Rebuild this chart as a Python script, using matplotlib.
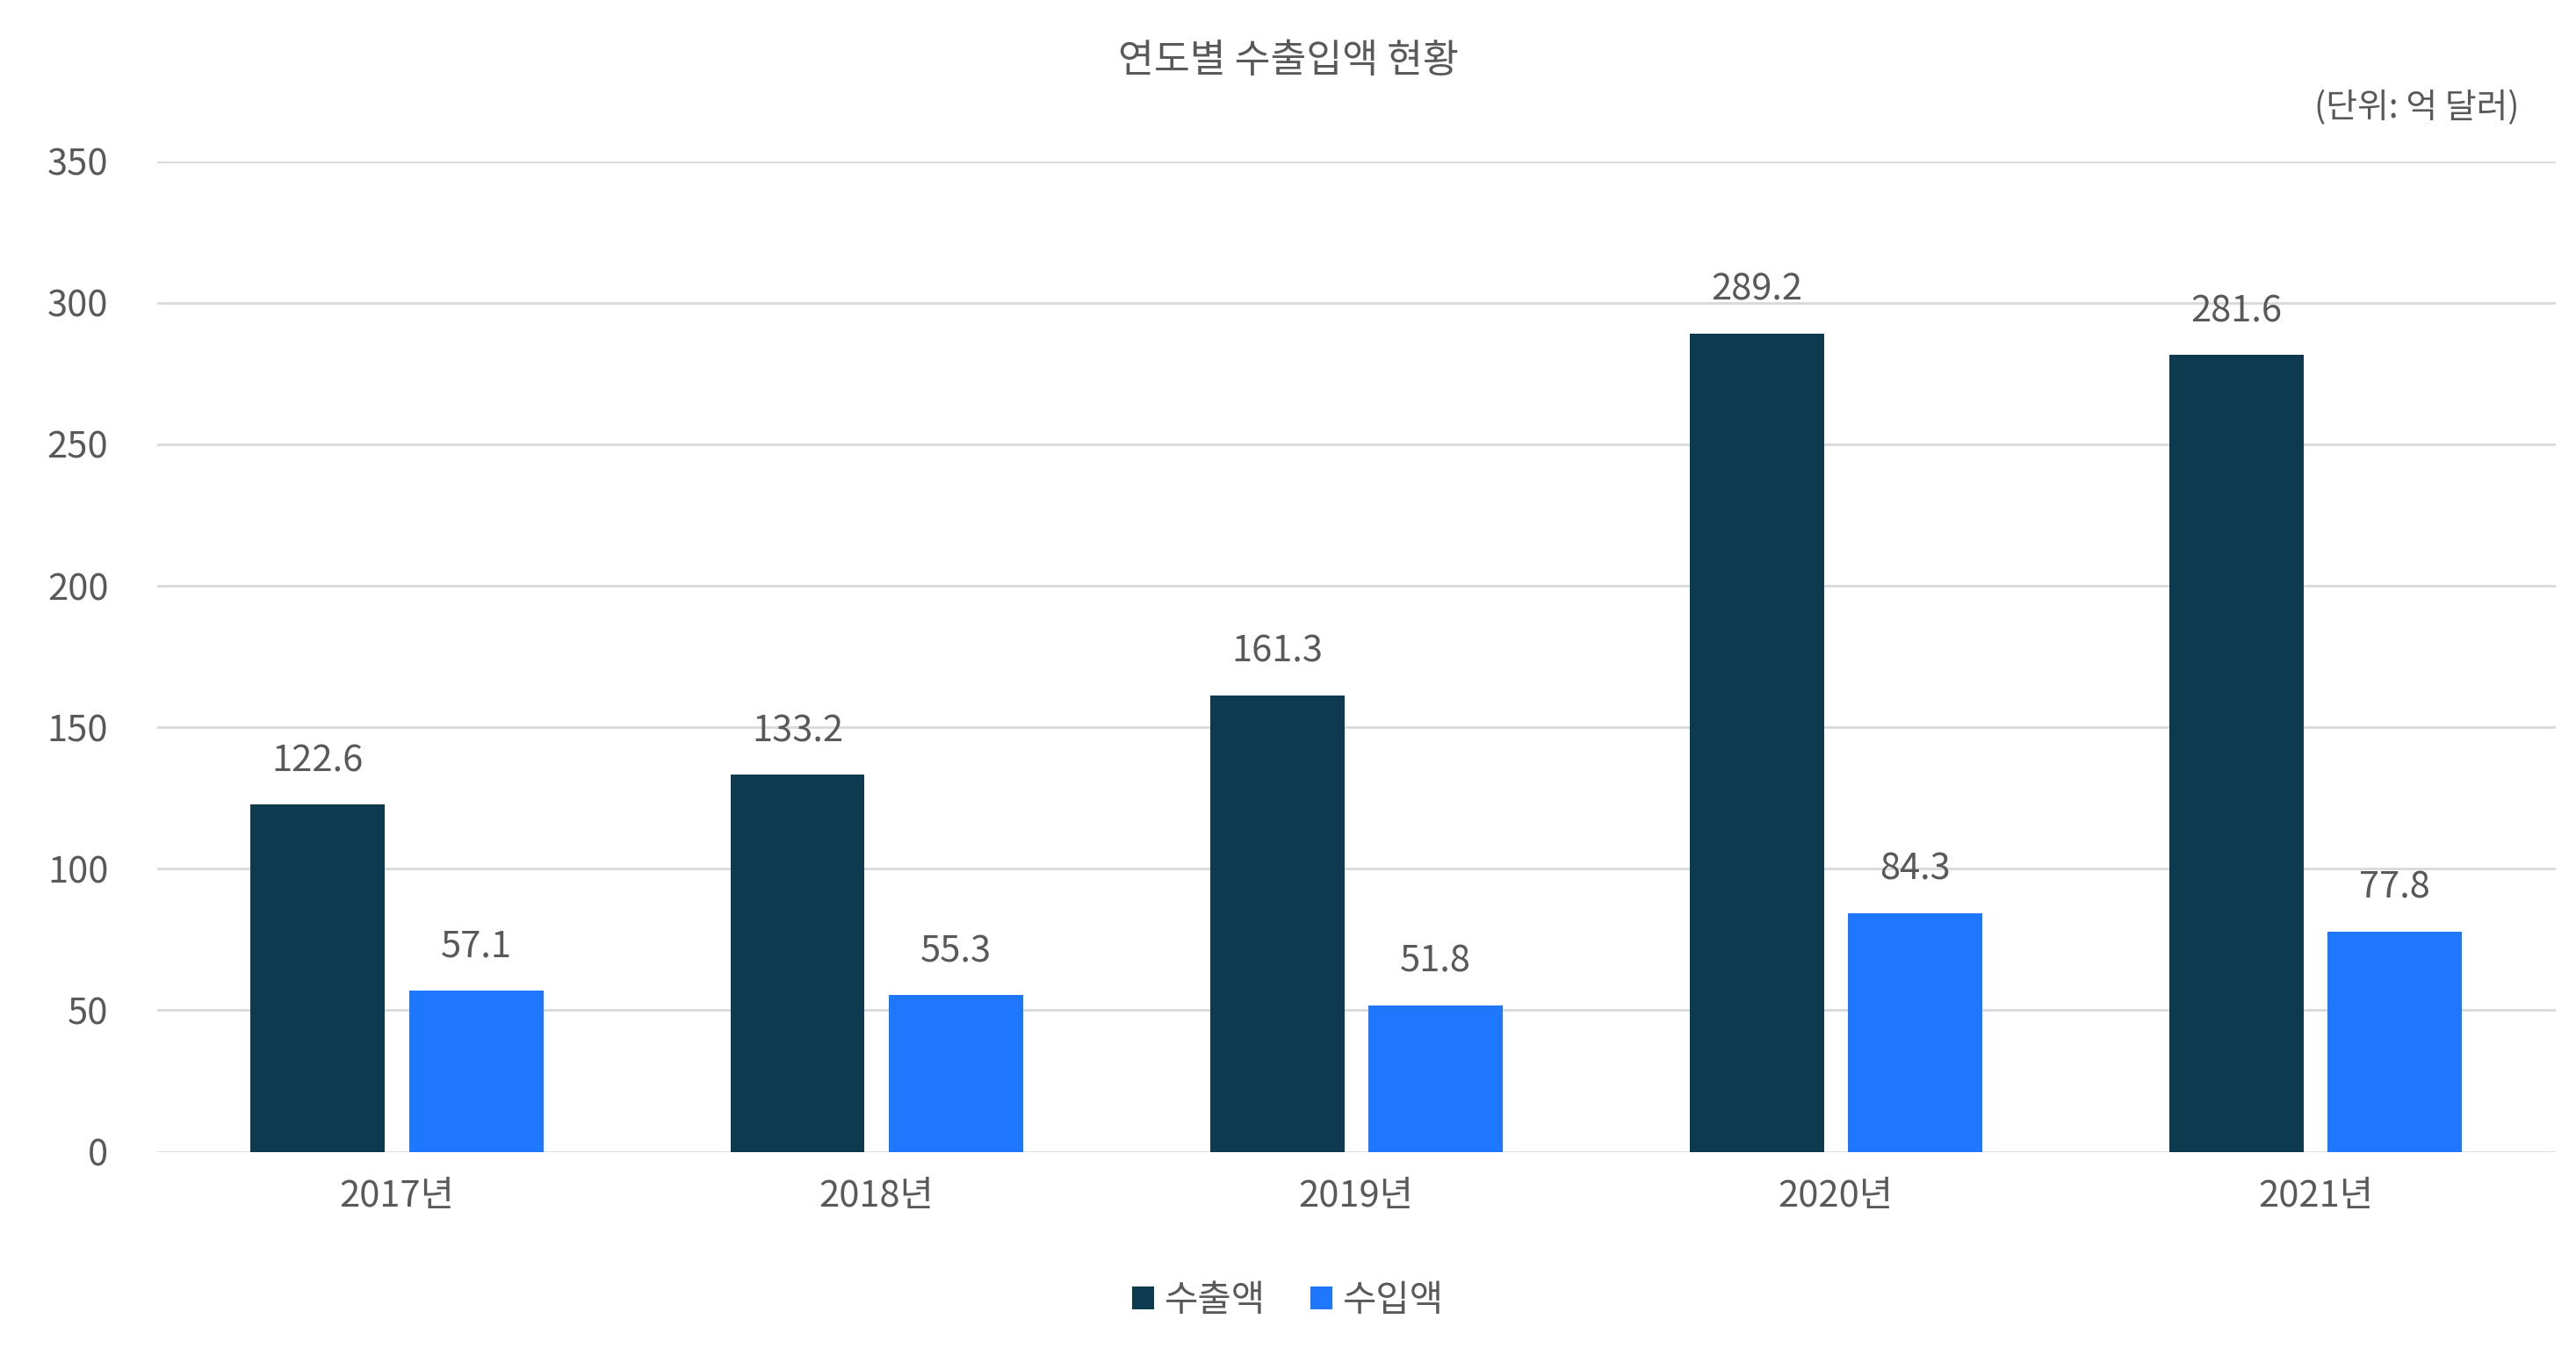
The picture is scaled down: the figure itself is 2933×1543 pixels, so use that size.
import matplotlib
matplotlib.use("Agg")
import matplotlib.pyplot as plt
import numpy as np

plt.rcParams["font.family"] = "Noto Sans CJK KR"

years = ["2017년", "2018년", "2019년", "2020년", "2021년"]
exports = [122.6, 133.2, 161.3, 289.2, 281.6]
imports = [57.1, 55.3, 51.8, 84.3, 77.8]

text_color = "#595959"
dark = "#0e3a4f"
blue = "#1f77fe"

fig = plt.figure(figsize=(29.33, 15.43), dpi=100)
ax = fig.add_axes([0.061, 0.150, 0.931, 0.731])

x = np.arange(len(years))
w = 0.28
off = 0.165
b1 = ax.bar(x - off, exports, w, color=dark, label="수출액", zorder=3)
b2 = ax.bar(x + off, imports, w, color=blue, label="수입액", zorder=3)

for bars, vals in ((b1, exports), (b2, imports)):
    for b, v in zip(bars, vals):
        ax.text(b.get_x() + b.get_width() / 2, v + 9, f"{v:.1f}",
                ha="center", va="bottom", fontsize=30, color=text_color)

ax.set_ylim(0, 350)
ax.set_yticks(range(0, 351, 50))
ax.set_xlim(-0.5, len(years) - 0.5)
ax.set_xticks(x)
ax.set_xticklabels(years)
ax.tick_params(axis="both", length=0, labelsize=30, labelcolor=text_color)
ax.tick_params(axis="x", pad=22)
ax.tick_params(axis="y", pad=40)
ax.grid(axis="y", color="#d9d9d9", linewidth=2, zorder=0)
for s in ax.spines.values():
    s.set_visible(False)

fig.text(0.5, 0.955, "연도별 수출입액 현황", ha="center", va="center",
         fontsize=32, color=text_color)
fig.text(0.978, 0.92, "(단위: 억 달러)", ha="right", va="center",
         fontsize=28, color=text_color)

fig.legend(handles=[b1, b2], loc="center", bbox_to_anchor=(0.5, 0.04),
           ncol=2, frameon=False, fontsize=30, handlelength=0.6,
           handleheight=0.6, handletextpad=0.3, columnspacing=1.2,
           labelcolor=text_color)

fig.savefig("out.png", dpi=100)
